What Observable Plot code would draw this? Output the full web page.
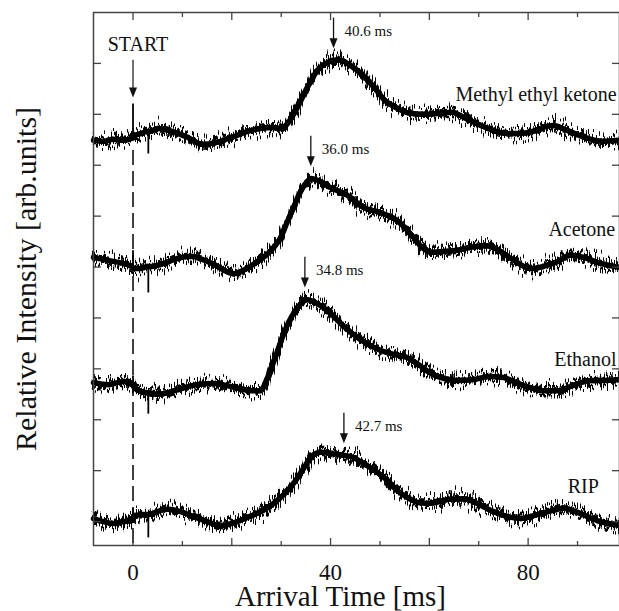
<!DOCTYPE html>
<html><head><meta charset="utf-8">
<script src="https://cdn.jsdelivr.net/npm/d3@7"></script>
<script src="https://cdn.jsdelivr.net/npm/@observablehq/plot@0.6"></script>
<style>
html,body{margin:0;padding:0;background:#fff;}
#chart svg{display:block;}
</style></head><body><div id="chart"></div>
<script>
// ---------- data ----------
const seriesNames = ["Methyl ethyl ketone", "Acetone", "Ethanol", "RIP"];

const tMEK = [-8,-6,-4,-2,-0.2,0.2,1.5,2.9,3.3,5,8,11,14,17,20,24.5,28,30,31.3,33.3,35.3,37.3,39.4,40.6,42,44,46.6,49,51,53.5,56,59,62,64.5,67,70,73,76,80,83,85,88,91,95,98.5];
const vMEK = [7.49,7.47,7.51,7.49,7.53,7.57,7.62,7.66,7.66,7.72,7.66,7.55,7.41,7.45,7.55,7.70,7.74,7.72,7.82,8.14,8.53,8.86,9.02,9.06,9.06,8.96,8.76,8.51,8.27,8.12,8.02,8.00,8.02,8.04,7.94,7.80,7.68,7.62,7.64,7.74,7.78,7.68,7.56,7.47,7.49];

const tAce = [-8,-5,-2,-0.2,0.2,1.5,2.9,3.3,6.2,9,11.7,14,16.4,20.4,23,25.2,28,29.9,31.2,32.5,34,35.3,36,37.5,40,43.4,46.7,50,53.5,55,56.8,58.5,60.3,63,65.7,69,71.8,74,76.5,80.5,83,86,88.5,91.3,94,98.5];
const vAce = [5.19,5.13,5.07,5.01,4.97,4.97,5.01,5.01,5.07,5.17,5.21,5.15,5.05,4.87,4.97,5.11,5.33,5.58,5.88,6.17,6.50,6.68,6.74,6.70,6.56,6.41,6.17,6.07,5.91,5.78,5.58,5.39,5.29,5.31,5.33,5.40,5.42,5.33,5.17,4.97,5.01,5.11,5.23,5.19,5.09,4.99];

const tEth = [-8,-5,-2,-0.2,0.2,2.9,3.3,5,7,9.7,13,16.4,19,21.8,24,25.8,27,27.8,28.8,30.5,32.5,34,34.8,36,38,40,42.5,45.4,48,50.2,53,55.6,58,60.3,63,65.7,69,72,75,78,80.5,83,86,89,92.7,95,98.5];
const vEth = [2.73,2.69,2.75,2.71,2.65,2.53,2.53,2.50,2.53,2.61,2.69,2.71,2.67,2.61,2.57,2.57,2.77,2.97,3.22,3.69,4.09,4.28,4.36,4.34,4.24,4.09,3.85,3.62,3.46,3.36,3.28,3.22,3.07,2.91,2.81,2.77,2.79,2.85,2.83,2.71,2.63,2.57,2.57,2.67,2.77,2.77,2.79];

const tRIP = [-8,-6,-3.9,-2,-0.2,0.2,2.9,3.3,5,7,9.5,11.7,14.5,17.8,20.5,23.1,26,28.5,30.5,32.5,34.5,36,38,40,42.7,44,46.7,49,51.5,53.5,55.6,58,60.3,64,67,70,72.4,75,78.5,82,85,87.2,90,94,98.5];
const vRIP = [0.06,0.00,-0.04,0.00,0.02,0.12,0.14,0.14,0.20,0.24,0.20,0.12,0.02,-0.08,-0.02,0.08,0.20,0.36,0.53,0.75,1.04,1.26,1.36,1.34,1.30,1.28,1.14,1.00,0.81,0.61,0.47,0.37,0.36,0.44,0.45,0.34,0.22,0.12,0.06,0.14,0.22,0.26,0.18,0.02,-0.08];

// sharp electrical spikes (time in ms, tip value per series in the order above)
const spikeTimes = [0, 3.1];
const spikeTips = [
  [8.21, 7.23],
  [5.33, 4.50],
  [2.87, 2.12],
  [0.26, -0.31]
];

const peakTimes = [40.6, 36.0, 34.8, 42.7];     // arrival-time peaks (ms)
const xTickLabels = [0, 40, 80];
const xTitle = "Arrival Time [ms]";
const yTitle = "Relative Intensity [arb.units]";
const startLabel = "START";

// ---------- layout (not data) ----------
const labelPlacement = [   // x (ms) of label end, y baseline (arb. units)
  {x: 97.9, y: 8.27}, {x: 97.6, y: 5.60}, {x: 97.9, y: 3.05}, {x: 94.3, y: 0.57}
];
const START_TIP = 8.33, START_TOP = 9.06, DASH_TOP = 7.29;
const ARROW_GAP = 0.24, ARROW_LEN = 0.59;

// ---------- build tidy rows ----------
const times = [tMEK, tAce, tEth, tRIP];
const vals = [vMEK, vAce, vEth, vRIP];
const rows = [];
seriesNames.forEach((s, i) => times[i].forEach((t, j) => rows.push({series: s, t, v: vals[i][j]})));

const nearest = (i, t) => vals[i][d3.minIndex(times[i], tt => Math.abs(tt - t))];
const spikes = [];
seriesNames.forEach((s, i) => spikeTimes.forEach((t, k) => spikes.push({series: s, t, base: nearest(i, t), tip: spikeTips[i][k]})));

const ann = peakTimes.map((t, i) => {
  const tip = nearest(i, t) + ARROW_GAP;
  return {t, tip, top: tip + ARROW_LEN, label: `${t.toFixed(1)} ms`};
});
const labels = seriesNames.map((s, i) => ({name: s, ...labelPlacement[i]}));

const headDown = {draw(ctx) { ctx.moveTo(0, 0); ctx.lineTo(-4, -10); ctx.lineTo(4, -10); ctx.closePath(); }};

const ink = "#111";
const axisInk = "#444";
const tickOpts = {tickFormat: () => "", label: null, stroke: axisInk, strokeWidth: 1.3};
const traceOpts = {x: "t", y: "v", z: "series", stroke: "#000", curve: "monotone-x"};

const plot = Plot.plot({
  width: 619, height: 611,
  marginLeft: 93, marginRight: 0, marginTop: 12, marginBottom: 66,
  style: {fontFamily: "'Liberation Serif', 'Times New Roman', serif", color: ink, background: "#fff"},
  x: {domain: [-8, 98.5]},
  y: {domain: [-0.47, 10]},
  marks: [
    Plot.ruleX([0], {y1: DASH_TOP, y2: -0.47, stroke: ink, strokeWidth: 1.6, strokeDasharray: "15,6"}),
    // solid core of each trace
    Plot.line(rows, {...traceOpts, strokeWidth: 5.5}),
    // noisy fringes of each trace (texture applied below)
    Plot.line(rows, {...traceOpts, strokeWidth: 3.5}),
    Plot.line(rows, {...traceOpts, strokeWidth: 3.5}),
    Plot.line(rows, {...traceOpts, strokeWidth: 3.5}),
    // spikes
    Plot.link(spikes, {x1: "t", x2: "t", y1: "base", y2: "tip", stroke: "#000", strokeWidth: 1.8}),
    Plot.frame({stroke: axisInk, strokeWidth: 1.5}),
    Plot.axisX({anchor: "bottom", ticks: [0, 20, 40, 60, 80], tickSize: -7, ...tickOpts}),
    Plot.axisX({anchor: "bottom", ticks: [10, 30, 50, 70, 90], tickSize: -4, ...tickOpts}),
    Plot.axisX({anchor: "top", ticks: [0, 20, 40, 60, 80], tickSize: -7, ...tickOpts}),
    Plot.axisX({anchor: "top", ticks: [10, 30, 50, 70, 90], tickSize: -4, ...tickOpts}),
    Plot.axisY({anchor: "left", ticks: d3.range(0, 10), tickSize: -8, ...tickOpts}),
    Plot.axisY({anchor: "right", ticks: d3.range(0, 10), tickSize: -8, ...tickOpts}),
    Plot.axisX({anchor: "bottom", ticks: xTickLabels, tickSize: 0, tickPadding: 18, fontSize: 23, label: null, fill: ink}),
    // START arrow
    Plot.ruleX([0], {y1: START_TIP + 0.15, y2: START_TOP, stroke: ink, strokeWidth: 1.2}),
    Plot.dot([0], {x: d => d, y: START_TIP, symbol: headDown, r: 3, fill: ink, stroke: null}),
    Plot.text([startLabel], {x: 0, y: START_TOP, text: d => d, dx: 5, dy: -9, lineAnchor: "bottom", textAnchor: "middle", fontSize: 20, fill: ink}),
    // peak arrows
    Plot.ruleX(ann, {x: "t", y1: d => d.tip + 0.15, y2: "top", stroke: ink, strokeWidth: 1.3}),
    Plot.dot(ann, {x: "t", y: "tip", symbol: headDown, r: 3, fill: ink, stroke: null}),
    Plot.text(ann, {x: "t", y: "top", text: "label", dx: 11, dy: 18, lineAnchor: "bottom", textAnchor: "start", fontSize: 15, fill: ink}),
    // series labels
    Plot.text(labels, {x: "x", y: "y", text: "name", textAnchor: "end", lineAnchor: "bottom", fontSize: 20, fill: ink}),
    // titles
    Plot.text([xTitle], {frameAnchor: "bottom", text: d => d, textAnchor: "middle", dx: -16, dy: 60.5, lineAnchor: "bottom", fontSize: 29, fill: ink}),
    Plot.text([yTitle], {frameAnchor: "left", text: d => d, textAnchor: "middle", rotate: -90, dx: -58, lineAnchor: "bottom", fontSize: 30, fill: ink})
  ]
});

// noise texture for the traces (visual style only)
const svg = d3.select(plot);
const defs = svg.insert("defs", ":first-child");
function noiseFilter(id, seed, freq, scale) {
  const f = defs.append("filter").attr("id", id).attr("x", "-5%").attr("y", "-15%").attr("width", "110%").attr("height", "130%")
    .attr("color-interpolation-filters", "sRGB");
  f.append("feTurbulence").attr("type", "fractalNoise").attr("baseFrequency", freq).attr("numOctaves", 1).attr("seed", seed).attr("result", "t");
  f.append("feColorMatrix").attr("in", "t").attr("type", "matrix")
    .attr("values", "0 0 0 0 0.5  0 1.6 0 0 -0.3  0 0 0 0 0  0 0 0 0 1").attr("result", "m");
  f.append("feDisplacementMap").attr("in", "SourceGraphic").attr("in2", "m").attr("scale", scale)
    .attr("xChannelSelector", "R").attr("yChannelSelector", "G");
}
noiseFilter("noisyA", 7, "1.0 0.03", 24);
noiseFilter("noisyB", 23, "0.8 0.05", 20);
noiseFilter("noisyC", 41, "0.6 0.04", 16);
const lineGroups = svg.selectAll('g[aria-label="line"]');
lineGroups.filter((d, i) => i === 1).attr("filter", "url(#noisyA)");
lineGroups.filter((d, i) => i === 2).attr("filter", "url(#noisyB)");
lineGroups.filter((d, i) => i === 3).attr("filter", "url(#noisyC)");

document.getElementById("chart").append(plot);
</script>
</body></html>
